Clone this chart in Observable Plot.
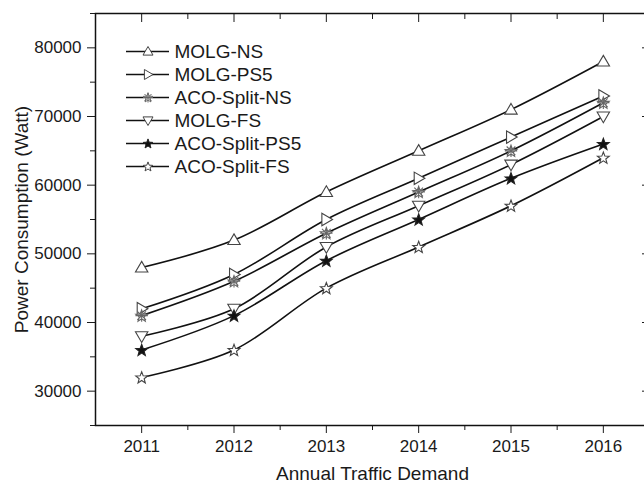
<!DOCTYPE html>
<html><head><meta charset="utf-8">
<script src="https://cdn.jsdelivr.net/npm/d3@7"></script>
<script src="https://cdn.jsdelivr.net/npm/@observablehq/plot@0.6"></script>
<style>
body{margin:0;background:#fff;overflow:hidden;font-family:"Liberation Sans",Arial,sans-serif}
#wrap{position:relative;width:644px;height:484px;overflow:hidden;background:#fff}
#legend{position:absolute;left:120px;top:37.6px}
svg{overflow:visible}
</style></head><body><div id="wrap"><div id="chart"></div><div id="legend"></div></div>
<script>
const years = [2011, 2012, 2013, 2014, 2015, 2016];
const seriesNames = ["MOLG-NS", "MOLG-PS5", "ACO-Split-NS", "MOLG-FS", "ACO-Split-PS5", "ACO-Split-FS"];
const molgNS      = [48000, 52000, 59000, 65000, 71000, 78000];
const molgPS5     = [42000, 47000, 55000, 61000, 67000, 73000];
const acoSplitNS  = [41000, 46000, 53000, 59000, 65000, 72000];
const molgFS      = [38000, 42000, 51000, 57000, 63000, 70000];
const acoSplitPS5 = [36000, 41000, 49000, 55000, 61000, 66000];
const acoSplitFS  = [32000, 36000, 45000, 51000, 57000, 64000];
const yMajorTicks = [30000, 40000, 50000, 60000, 70000, 80000];
const yMinorTicks = [25000, 35000, 45000, 55000, 65000, 75000, 85000];
const xMinorTicks = [2011.5, 2012.5, 2013.5, 2014.5, 2015.5, 2016.5];

const seriesValues = [molgNS, molgPS5, acoSplitNS, molgFS, acoSplitPS5, acoSplitFS];
const rows = seriesNames.flatMap((name, i) => years.map((year, j) => ({name, year, value: seriesValues[i][j]})));

function poly(ctx, pts) { ctx.moveTo(pts[0][0], pts[0][1]); for (let k = 1; k < pts.length; k++) ctx.lineTo(pts[k][0], pts[k][1]); ctx.closePath(); }
function starPts(R) {
  const pts = [];
  for (let k = 0; k < 10; k++) {
    const a = -Math.PI / 2 + k * Math.PI / 5;
    const rr = k % 2 === 0 ? R : R * 0.42;
    pts.push([rr * Math.cos(a), rr * Math.sin(a) + R * 0.08]);
  }
  return pts;
}
const triUp = {draw(ctx, size) { const R = Math.sqrt(size / Math.PI); poly(ctx, [[0, -R], [R, R * 0.72], [-R, R * 0.72]]); }};
const triRight = {draw(ctx, size) { const R = Math.sqrt(size / Math.PI); poly(ctx, [[R, 0], [-R * 0.72, R], [-R * 0.72, -R]]); }};
const triDown = {draw(ctx, size) { const R = Math.sqrt(size / Math.PI); poly(ctx, [[0, R], [R, -R * 0.72], [-R, -R * 0.72]]); }};
const star = {draw(ctx, size) { const R = Math.sqrt(size / Math.PI); poly(ctx, starPts(R)); }};
const starX = {draw(ctx, size) {
  const R = Math.sqrt(size / Math.PI); poly(ctx, starPts(R));
  const d = R * 0.7;
  ctx.moveTo(-d, -d); ctx.lineTo(d, d); ctx.moveTo(d, -d); ctx.lineTo(-d, d);
  ctx.moveTo(0, -R); ctx.lineTo(0, R); ctx.moveTo(-R, 0); ctx.lineTo(R, 0);
}};
const symbols = [triUp, triRight, starX, triDown, star, star];
const fills = ["white", "white", "white", "white", "#111", "white"];
const strokes = ["#444", "#444", "#666", "#444", "#222", "#444"];

const font = "Liberation Sans, Arial, sans-serif";
const blank = () => "";

const chart = Plot.plot({
  width: 644, height: 484,
  marginLeft: 95, marginRight: -5, marginTop: 13, marginBottom: 59,
  style: {fontFamily: font, fontSize: "17px", color: "#1a1a1a", background: "white", overflow: "visible"},
  x: {domain: [2010.5, 2016.5]},
  y: {domain: [25000, 85000]},
  marks: [
    Plot.axisY({ticks: yMajorTicks, tickSize: 8, tickPadding: 6, tickFormat: d => String(d), fontSize: 17, label: null}),
    Plot.axisY({ticks: [], label: "Power Consumption (Watt)", fontSize: 19, labelAnchor: "center", labelArrow: "none", labelOffset: 81}),
    Plot.axisY({ticks: yMinorTicks, tickSize: 5, tickFormat: blank, label: null}),
    Plot.axisY({anchor: "right", ticks: yMajorTicks, tickSize: -8, tickFormat: blank, label: null}),
    Plot.axisY({anchor: "right", ticks: yMinorTicks, tickSize: -5, tickFormat: blank, label: null}),
    Plot.axisX({ticks: years, tickSize: 8, tickPadding: 6, tickFormat: d => String(d), fontSize: 17, label: null}),
    Plot.axisX({ticks: [], label: "Annual Traffic Demand", fontSize: 19, labelAnchor: "center", labelArrow: "none", labelOffset: 54}),
    Plot.axisX({ticks: xMinorTicks, tickSize: 5, tickFormat: blank, label: null}),
    Plot.axisX({anchor: "top", ticks: years, tickSize: -8, tickFormat: blank, label: null}),
    Plot.axisX({anchor: "top", ticks: xMinorTicks, tickSize: -5, tickFormat: blank, label: null}),
    Plot.frame({stroke: "#111", strokeWidth: 1.5}),
    Plot.line(rows, {x: "year", y: "value", z: "name", curve: "catmull-rom", stroke: "#111", strokeWidth: 1.6}),
    ...seriesNames.map((name, i) => Plot.dot(rows.filter(r => r.name === name), {
      x: "year", y: "value", symbol: symbols[i], r: 6.2, fill: fills[i], stroke: strokes[i], strokeWidth: 1.1
    }))
  ]
});
document.getElementById("chart").appendChild(chart);

const legend = Plot.plot({
  width: 200, height: 140,
  marginLeft: 6, marginRight: 151, marginTop: 0, marginBottom: 0,
  style: {fontFamily: font, fontSize: "19px", color: "#1a1a1a", background: "transparent", overflow: "visible"},
  x: {axis: null, domain: [0, 1]},
  y: {type: "point", domain: seriesNames, padding: 0.5, axis: null},
  marks: [
    Plot.tickY(seriesNames, {y: d => d, stroke: "#111", strokeWidth: 1.6}),
    ...seriesNames.map((name, i) => Plot.dot([name], {
      y: d => d, frameAnchor: "middle", symbol: symbols[i], r: 5, fill: fills[i], stroke: strokes[i], strokeWidth: 1
    })),
    Plot.text(seriesNames, {y: d => d, text: d => d, frameAnchor: "right", dx: 5, textAnchor: "start", fontSize: 19, fill: "#1a1a1a"})
  ]
});
document.getElementById("legend").appendChild(legend);
</script>
</body></html>
